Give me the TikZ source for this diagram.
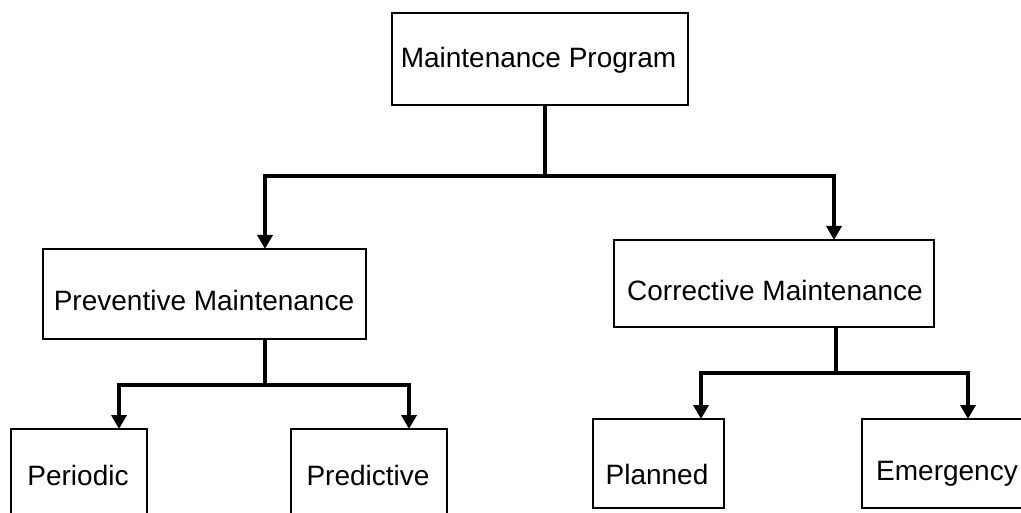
\documentclass[tikz,border=0pt]{standalone}
\usepackage{fontspec}
\setmainfont{Liberation Sans}
\usetikzlibrary{arrows.meta,calc}
\begin{document}
\begin{tikzpicture}[x=1pt,y=-1pt,
  box/.style={draw,line width=1.5pt,inner sep=0pt,outer sep=0pt},
  lbl/.style={inner sep=0pt,anchor=base,font=\fontsize{28}{32}\selectfont},
  conn/.style={line width=3.6pt},
  arr/.style={conn,-{Triangle[width=15pt,length=14pt]}}]
\useasboundingbox (0,0) rectangle (1021,513);
\clip (0,0) rectangle (1021,513);
% boxes
\node[box,minimum width=296pt,minimum height=92pt] (top) at (540,59) {};
\node[box,minimum width=323pt,minimum height=90pt] (prev) at (204.5,294) {};
\node[box,minimum width=320pt,minimum height=87pt] (corr) at (774,283.5) {};
\node[box,minimum width=136pt,minimum height=131pt] (peri) at (79,494.5) {};
\node[box,minimum width=156pt,minimum height=131pt] (pred) at (369,494.5) {};
\node[box,minimum width=131pt,minimum height=89pt] (plan) at (658.5,463.5) {};
\node[box,minimum width=300pt,minimum height=89pt] (emer) at (1012,463.5) {};
% labels
\node[lbl] (ttop) at (538.5,68) {Maintenance Program};
\node[lbl] (tprev) at (204,311) {Preventive Maintenance};
\node[lbl] (tcorr) at (775,301) {Corrective Maintenance};
\node[lbl] (tperi) at (78,485) {Periodic};
\node[lbl] (tpred) at (368,485) {Predictive};
\node[lbl] (tplan) at (657,484) {Planned};
\node[lbl] (temer) at (947,480) {Emergency};
% junctions
\coordinate (j0) at (545,176);
\coordinate (a1) at (265,176);
\coordinate (a2) at (834,176);
\coordinate (j1) at (265,385);
\coordinate (b1) at (119,385);
\coordinate (b2) at (409,385);
\coordinate (j2) at (836,373);
\coordinate (c1) at (701,373);
\coordinate (c2) at (968,373);
% connectors
\draw[conn] (top.south -| j0) -- (j0);
\draw[arr] (j0) -- (a1) -- (a1 |- prev.north);
\draw[arr] (j0) -- (a2) -- (a2 |- corr.north);
\draw[conn] (prev.south -| j1) -- (j1);
\draw[arr] (j1) -- (b1) -- (b1 |- peri.north);
\draw[arr] (j1) -- (b2) -- (b2 |- pred.north);
\draw[conn] (corr.south -| j2) -- (j2);
\draw[arr] (j2) -- (c1) -- (c1 |- plan.north);
\draw[arr] (j2) -- (c2) -- (c2 |- emer.north);
\end{tikzpicture}
\end{document}
